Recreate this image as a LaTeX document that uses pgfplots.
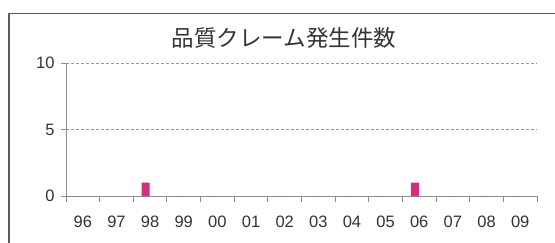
\documentclass[border=0pt]{standalone}
\usepackage{fontspec}
\setmainfont{Liberation Sans}
\newfontfamily\cjk{Noto Sans CJK JP}
\usepackage{pgfplots}
\pgfplotsset{compat=1.18}
\definecolor{barmag}{HTML}{D0307E}
\definecolor{axgray}{HTML}{8C8C8C}
\definecolor{txt}{HTML}{333333}
\definecolor{gridgray}{HTML}{9A9A9A}
\begin{document}
\begin{tikzpicture}[x=1pt,y=1pt]
\useasboundingbox (0,0) rectangle (555,242);
\draw[line width=1.3pt, color=txt!80] (9,-5) -- (9,228.5) -- (560,228.5);
\node[font=\cjk\fontsize{22.5}{24}\selectfont, text=txt] at (284,204.5) {品質クレーム発生件数};
\begin{axis}[
  at={(66pt,46pt)}, anchor=south west,
  scale only axis, width=471pt, height=133pt,
  xmin=-0.5, xmax=13.5, ymin=0, ymax=10,
  axis x line=bottom, axis y line=left,
  axis line style={-, draw=axgray, line width=1pt},
  xtick={0,...,13},
  xticklabels={96,97,98,99,00,01,02,03,04,05,06,07,08,09},
  minor xtick={-0.5,0.5,...,13.5},
  major x tick style={draw=none},
  minor x tick style={draw=axgray, line width=1pt},
  minor tick length=6pt,
  ytick={0,5,10},
  y tick style={draw=axgray, line width=1pt},
  major tick length=5pt,
  tick align=outside,
  ymajorgrids,
  major grid style={dashed, dash pattern=on 3pt off 2pt, draw=gridgray, line width=0.6pt},
  tick label style={font=\fontsize{16.5}{17}\selectfont, text=txt},
  /pgf/number format/assume math mode=true,
  xticklabel style={yshift=-11pt},
  yticklabel style={xshift=-3pt},
  ybar, bar width=8pt,
]
\addplot[draw=none, fill=barmag, bar shift=-4.5pt] coordinates {
  (0,0) (1,0) (2,1) (3,0) (4,0) (5,0) (6,0) (7,0) (8,0) (9,0) (10,1) (11,0) (12,0) (13,0)
};
\end{axis}
\end{tikzpicture}
\end{document}
